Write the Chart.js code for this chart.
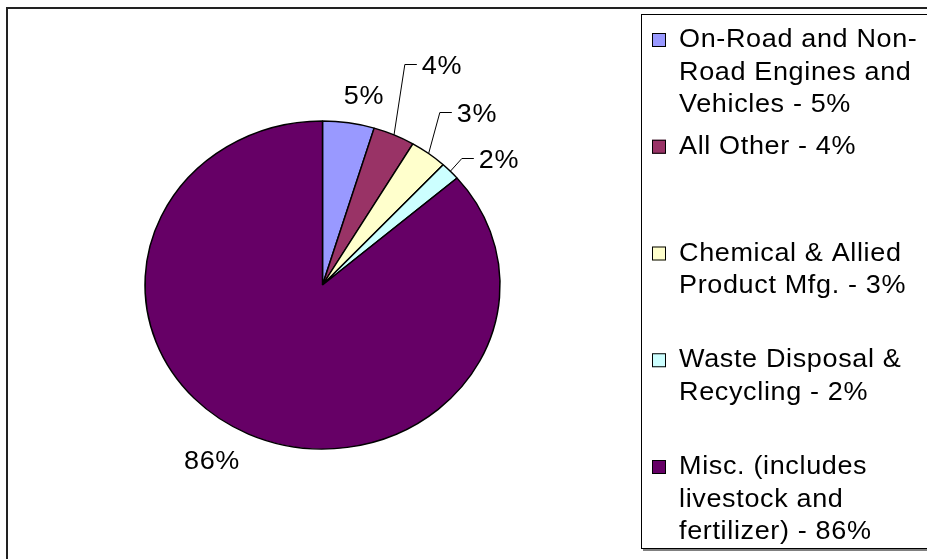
<!DOCTYPE html>
<html>
<head>
<meta charset="utf-8">
<script src="https://cdn.jsdelivr.net/npm/chart.js@4.4.1/dist/chart.umd.min.js"></script>
<style>
  html, body { margin: 0; padding: 0; background: #fff; overflow: hidden; }
  canvas { display: block; }
</style>
</head>
<body>
<canvas id="pieChart" width="927" height="559"></canvas>
<script>
/* ── Data ── */
const categories = [
  'On-Road and Non-\nRoad Engines and\nVehicles',
  'All Other',
  'Chemical & Allied\nProduct Mfg.',
  'Waste Disposal &\nRecycling',
  'Misc. (includes\nlivestock and\nfertilizer)'
];
const shares = [4.7, 3.8, 3.4, 1.8, 86.3];
const sliceColors = ['#9999FF', '#993366', '#FFFFCC', '#CCFFFF', '#660066'];

/* ── Layout / style ── */
const FONT = "25px 'Liberation Sans', Arial, sans-serif";
const SPACING = '0.6px';
const STRETCH = 1.08;          // the original picture is stretched sideways
const SQUASH = 164 / 177.5;    // so the pie is a bit wider than tall
// text centre x, baseline y for each slice label
const labelAt = [[364, 104], [442, 74], [477, 122], [499, 168], [212, 469]];
const withLeader = [false, true, true, true, false];

function pct(i) {
  const total = shares.reduce((a, b) => a + b, 0);
  return Math.round(shares[i] / total * 100) + '%';
}

function wideText(ctx, text, x, y) {
  ctx.save();
  ctx.translate(x, y);
  ctx.scale(STRETCH, 1);
  ctx.fillText(text, 0, 0);
  ctx.restore();
}

function setFont(ctx) {
  ctx.font = FONT;
  if ('letterSpacing' in ctx) ctx.letterSpacing = SPACING;
}

/* ── Plugins ── */
const frame = {
  id: 'frame',
  beforeDraw(chart) {
    const ctx = chart.ctx;
    ctx.save();
    ctx.fillStyle = '#fff';
    ctx.fillRect(0, 0, chart.width, chart.height);
    ctx.strokeStyle = '#222';
    ctx.lineWidth = 2;
    ctx.strokeRect(7, 8, 1000, 1000);
    ctx.restore();
  }
};

const squash = {
  id: 'squash',
  beforeDatasetsDraw(chart) {
    const arc = chart.getDatasetMeta(0).data[0];
    const ctx = chart.ctx;
    ctx.save();
    ctx.translate(arc.x, arc.y);
    ctx.scale(1, SQUASH);
    ctx.translate(-arc.x, -arc.y);
  },
  afterDatasetsDraw(chart) {
    chart.ctx.restore();
  }
};

const sliceLabels = {
  id: 'sliceLabels',
  afterDraw(chart) {
    const ctx = chart.ctx;
    ctx.save();
    setFont(ctx);
    ctx.fillStyle = '#000';
    ctx.strokeStyle = '#000';
    ctx.lineWidth = 1;
    ctx.textAlign = 'center';
    ctx.textBaseline = 'alphabetic';
    chart.getDatasetMeta(0).data.forEach((arc, i) => {
      const [tx, ty] = labelAt[i];
      const text = pct(i);
      wideText(ctx, text, tx, ty);
      if (withLeader[i]) {
        const w = ctx.measureText(text).width * STRETCH;
        const mid = (arc.startAngle + arc.endAngle) / 2;
        const rx = arc.x + Math.cos(mid) * arc.outerRadius;
        const ry = arc.y + Math.sin(mid) * arc.outerRadius * SQUASH;
        const left = tx - w / 2;
        ctx.beginPath();
        ctx.moveTo(rx, ry);
        ctx.lineTo(left - 17, ty - 9.5);
        ctx.lineTo(left - 5, ty - 9.5);
        ctx.stroke();
      }
    });
    ctx.restore();
  }
};

const legendBox = {
  id: 'legendBox',
  afterDraw(chart) {
    const ctx = chart.ctx;
    ctx.save();
    // box + shadow
    ctx.strokeStyle = '#808080';
    ctx.lineWidth = 2;
    ctx.beginPath();
    ctx.moveTo(643, 550);
    ctx.lineTo(927, 550);
    ctx.stroke();
    ctx.strokeStyle = '#000';
    ctx.lineWidth = 1;
    ctx.strokeRect(641.5, 14.5, 400, 534);

    setFont(ctx);
    ctx.textAlign = 'left';
    ctx.textBaseline = 'alphabetic';
    categories.forEach((name, i) => {
      const y0 = 47 + i * 106.75;
      ctx.fillStyle = sliceColors[i];
      ctx.fillRect(652, y0 - 14, 14, 14);
      ctx.strokeStyle = '#000';
      ctx.strokeRect(652.5, y0 - 13.5, 13, 13);
      ctx.fillStyle = '#000';
      const lines = (name + ' - ' + pct(i)).split('\n');
      lines.forEach((line, k) => wideText(ctx, line, 679, y0 + k * 32.7));
    });
    ctx.restore();
  }
};

/* ── Chart ── */
new Chart(document.getElementById('pieChart'), {
  type: 'pie',
  data: {
    labels: categories,
    datasets: [
      {
        data: shares,
        backgroundColor: sliceColors,
        borderColor: '#000',
        borderWidth: 1.5,
        hoverOffset: 0,
        radius: 177.5,
      },
    ],
  },
  options: {
    responsive: false,
    animation: false,
    events: [],
    radius: 177.5,
    layout: { padding: { left: 145, right: 427, top: 107, bottom: 96 } },
    plugins: {
      legend: { display: false },
      tooltip: { enabled: false },
    },
  },
  plugins: [frame, squash, sliceLabels, legendBox],
});
</script>
</body>
</html>
